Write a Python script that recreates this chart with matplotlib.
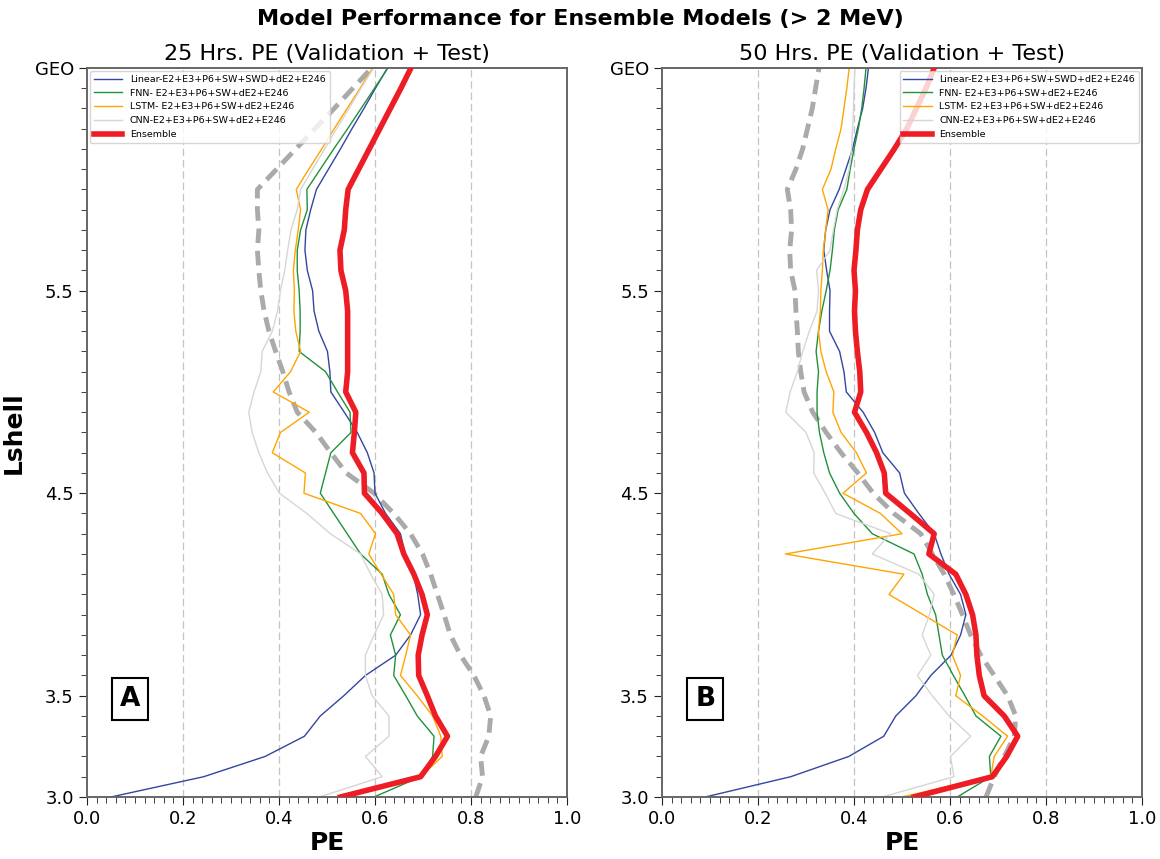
import numpy as np
import matplotlib.pyplot as plt
from matplotlib.ticker import MultipleLocator

# L-shell grid, 3.0 .. GEO (6.6)
lshell = [3.0, 3.1, 3.2, 3.3, 3.4, 3.5, 3.6, 3.7, 3.8, 3.9,
          4.0, 4.1, 4.2, 4.3, 4.4, 4.5, 4.6, 4.7, 4.8, 4.9,
          5.0, 5.1, 5.2, 5.3, 5.4, 5.5, 5.6, 5.7, 5.8, 5.9,
          6.0, 6.1, 6.2, 6.3, 6.4, 6.5, 6.6]

# 25 hr prediction efficiency
linear_25 = [0.050, 0.243, 0.371, 0.453, 0.486, 0.535, 0.580, 0.643, 0.674, 0.695,
             0.689, 0.680, 0.663, 0.653, 0.622, 0.600, 0.598, 0.584, 0.563, 0.536,
             0.508, 0.506, 0.501, 0.483, 0.473, 0.470, 0.459, 0.454, 0.456, 0.466,
             0.478, 0.503, 0.528, 0.552, 0.577, 0.601, 0.626]
fnn_25 = [0.598, 0.695, 0.720, 0.723, 0.688, 0.664, 0.639, 0.643, 0.632, 0.653,
          0.629, 0.615, 0.570, 0.542, 0.514, 0.486, 0.497, 0.508, 0.550, 0.548,
          0.522, 0.497, 0.442, 0.444, 0.444, 0.442, 0.438, 0.438, 0.445, 0.459,
          0.458, 0.486, 0.514, 0.543, 0.571, 0.599, 0.627]
lstm_25 = [0.530, 0.695, 0.740, 0.737, 0.720, 0.688, 0.653, 0.664, 0.674, 0.643,
           0.639, 0.613, 0.587, 0.601, 0.570, 0.452, 0.455, 0.386, 0.403, 0.463,
           0.388, 0.424, 0.445, 0.435, 0.431, 0.432, 0.430, 0.434, 0.440, 0.445,
           0.436, 0.462, 0.489, 0.515, 0.542, 0.569, 0.595]
cnn_25 = [0.484, 0.615, 0.580, 0.629, 0.629, 0.594, 0.580, 0.580, 0.598, 0.618,
          0.615, 0.591, 0.570, 0.507, 0.458, 0.401, 0.376, 0.358, 0.344, 0.337,
          0.348, 0.362, 0.365, 0.386, 0.397, 0.403, 0.412, 0.418, 0.425, 0.438,
          0.445, 0.470, 0.495, 0.520, 0.546, 0.571, 0.597]
ens_25 = [0.528, 0.695, 0.726, 0.751, 0.726, 0.709, 0.691, 0.690, 0.698, 0.709,
          0.698, 0.681, 0.660, 0.646, 0.615, 0.578, 0.577, 0.553, 0.557, 0.560,
          0.539, 0.543, 0.543, 0.543, 0.543, 0.539, 0.529, 0.527, 0.536, 0.539,
          0.544, 0.566, 0.588, 0.610, 0.632, 0.654, 0.675]
base_25 = [0.810, 0.824, 0.820, 0.837, 0.841, 0.827, 0.806, 0.778, 0.757, 0.744,
           0.730, 0.716, 0.699, 0.674, 0.639, 0.598, 0.540, 0.508, 0.477, 0.438,
           0.421, 0.408, 0.393, 0.379, 0.369, 0.362, 0.358, 0.355, 0.358, 0.355,
           0.355, 0.395, 0.435, 0.475, 0.515, 0.554, 0.593]

# 50 hr prediction efficiency
linear_50 = [0.090, 0.268, 0.389, 0.462, 0.487, 0.529, 0.560, 0.602, 0.622, 0.633,
             0.622, 0.598, 0.581, 0.567, 0.535, 0.505, 0.495, 0.460, 0.443, 0.419,
             0.384, 0.379, 0.370, 0.349, 0.349, 0.350, 0.343, 0.337, 0.341, 0.350,
             0.369, 0.383, 0.397, 0.407, 0.418, 0.425, 0.430]
fnn_50 = [0.615, 0.685, 0.682, 0.706, 0.654, 0.631, 0.607, 0.584, 0.577, 0.570,
          0.553, 0.542, 0.525, 0.438, 0.400, 0.370, 0.349, 0.337, 0.328, 0.323,
          0.323, 0.326, 0.321, 0.326, 0.333, 0.342, 0.350, 0.355, 0.359, 0.367,
          0.385, 0.392, 0.400, 0.409, 0.416, 0.421, 0.425]
lstm_50 = [0.500, 0.685, 0.692, 0.720, 0.668, 0.612, 0.622, 0.605, 0.615, 0.544,
           0.473, 0.504, 0.257, 0.500, 0.455, 0.377, 0.426, 0.405, 0.373, 0.356,
           0.358, 0.342, 0.331, 0.326, 0.330, 0.331, 0.334, 0.336, 0.341, 0.346,
           0.334, 0.352, 0.362, 0.373, 0.379, 0.385, 0.390]
cnn_50 = [0.459, 0.608, 0.601, 0.643, 0.598, 0.563, 0.532, 0.560, 0.542, 0.557,
          0.567, 0.535, 0.438, 0.476, 0.362, 0.340, 0.316, 0.317, 0.300, 0.258,
          0.267, 0.282, 0.293, 0.307, 0.323, 0.326, 0.322, 0.350, 0.357, 0.365,
          0.379, 0.390, 0.395, 0.397, 0.399, 0.400, 0.402]
ens_50 = [0.525, 0.688, 0.718, 0.741, 0.713, 0.671, 0.661, 0.656, 0.654, 0.647,
          0.633, 0.612, 0.556, 0.567, 0.517, 0.466, 0.463, 0.447, 0.426, 0.401,
          0.414, 0.412, 0.407, 0.403, 0.401, 0.403, 0.400, 0.404, 0.407, 0.414,
          0.428, 0.456, 0.484, 0.510, 0.530, 0.550, 0.567]
base_50 = [0.675, 0.692, 0.713, 0.734, 0.737, 0.720, 0.692, 0.664, 0.643, 0.626,
           0.608, 0.588, 0.563, 0.539, 0.483, 0.440, 0.408, 0.373, 0.342, 0.314,
           0.296, 0.289, 0.284, 0.282, 0.279, 0.277, 0.268, 0.266, 0.270, 0.268,
           0.261, 0.279, 0.293, 0.303, 0.313, 0.320, 0.327]

labels = ['Linear-E2+E3+P6+SW+SWD+dE2+E246', 'FNN- E2+E3+P6+SW+dE2+E246',
          'LSTM- E2+E3+P6+SW+dE2+E246', 'CNN-E2+E3+P6+SW+dE2+E246', 'Ensemble']
ytick_pos = [3.0, 3.5, 4.5, 5.5, 6.6]
ytick_lab = ['3.0', '3.5', '4.5', '5.5', 'GEO']

panels = [
    ('25 Hrs. PE (Validation + Test)', 'A', 'upper left',
     [linear_25, fnn_25, lstm_25, cnn_25, ens_25], base_25),
    ('50 Hrs. PE (Validation + Test)', 'B', 'upper right',
     [linear_50, fnn_50, lstm_50, cnn_50, ens_50], base_50),
]

colors = ['#3346a0', '#21913a', '#ffa500', '#d6d6d6', '#ee1c25']
widths = [1.0, 1.0, 1.0, 1.0, 4.0]

fig = plt.figure(figsize=(11.6, 8.59), dpi=100)
fig.suptitle('Model Performance for Ensemble Models (> 2 MeV)',
             fontsize=16, fontweight='bold', y=0.99)

lefts = [0.075, 0.5707]
for i, (title, letter, loc, series, base) in enumerate(panels):
    ax = fig.add_axes([lefts[i], 0.0722, 0.4138, 0.8487])
    for xg in [0.2, 0.4, 0.6, 0.8]:
        ax.axvline(xg, color='#c4c4c4', ls=(0, (6, 3)), lw=0.9, zorder=0)
    ax.plot(base, lshell, color='#aaaaaa', lw=3.5, ls=(0, (3, 1.6)), zorder=1)
    for s, lab, c, w in zip(series, labels, colors, widths):
        ax.plot(s, lshell, color=c, lw=w, label=lab, zorder=3 if w > 2 else 2)

    ax.set_xlim(0, 1.0)
    ax.set_ylim(3.0, 6.6)
    ax.xaxis.set_major_locator(MultipleLocator(0.2))
    ax.xaxis.set_minor_locator(MultipleLocator(0.02))
    ax.yaxis.set_minor_locator(MultipleLocator(0.1))
    ax.set_yticks(ytick_pos)
    ax.set_yticklabels(ytick_lab)
    ax.tick_params(labelsize=13, length=6, color='#222222')
    ax.tick_params(which='minor', length=4, color='#222222')
    for sp in ax.spines.values():
        sp.set_color('#666666')
        sp.set_linewidth(1.4)

    ax.set_title(title, fontsize=16, pad=6)
    ax.set_xlabel('PE', fontsize=18, fontweight='bold', labelpad=2)
    if i == 0:
        ax.set_ylabel('Lshell', fontsize=18, fontweight='bold', labelpad=6)

    leg = ax.legend(loc=loc, fontsize=6.8, frameon=True, borderaxespad=0.35,
                    handlelength=3.0, labelspacing=0.5)
    leg.get_frame().set_edgecolor('#cccccc')

    ax.text(0.09, 0.134, letter, transform=ax.transAxes, fontsize=19,
            fontweight='bold', ha='center', va='center',
            bbox=dict(boxstyle='square,pad=0.3', fc='white', ec='black', lw=1.5))

fig.savefig('out.png', dpi=100)
